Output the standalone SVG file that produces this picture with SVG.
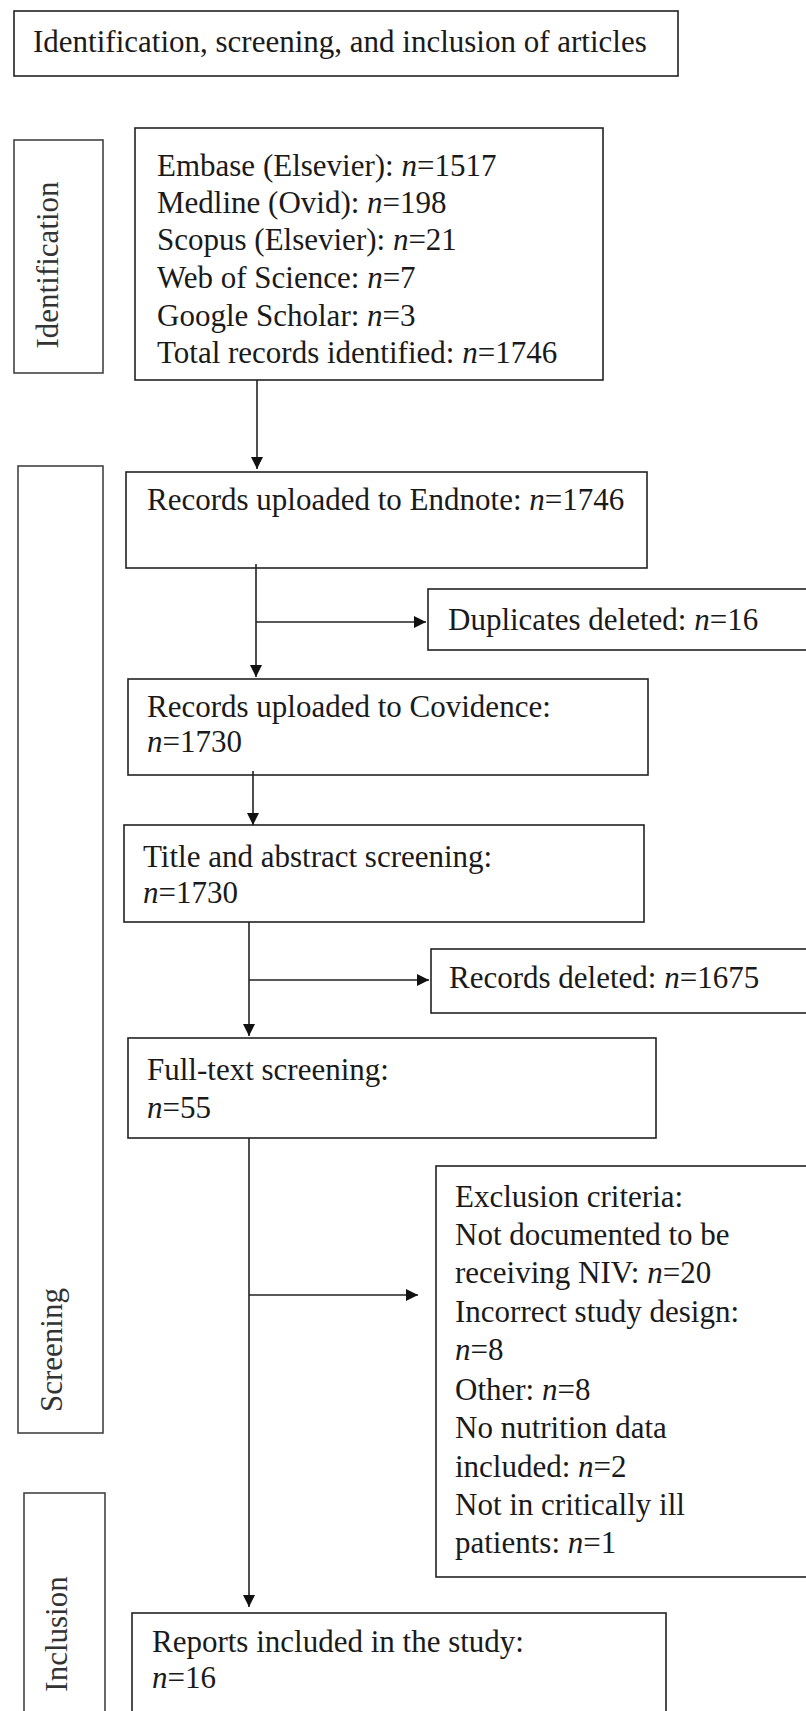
<svg xmlns="http://www.w3.org/2000/svg" width="806" height="1711" viewBox="0 0 806 1711">
<defs>
<style>
.box{fill:#fff;stroke:#222;stroke-width:1.6}
.lab{fill:#fff;stroke:#444;stroke-width:1.6}
.t{font-family:"Liberation Serif","Times New Roman",serif;font-size:31px;fill:#1a1a1a}
.lt{font-family:"Liberation Serif","Times New Roman",serif;font-size:31px;fill:#333;text-anchor:middle}
.i{font-style:italic}
.c{fill:none;stroke:#222;stroke-width:1.6}
</style>
<marker id="ah" viewBox="0 0 12 12" refX="12" refY="6" markerWidth="12" markerHeight="12" markerUnits="userSpaceOnUse" orient="auto">
<path d="M0,0 L12,6 L0,12 Z" fill="#111"/>
</marker>
</defs>
<rect width="806" height="1711" fill="#fff"/>

<g id="title">
<rect class="box" x="14" y="11" width="664" height="65"/>
<text class="t" x="33" y="52">Identification, screening, and inclusion of articles</text>
</g>

<g id="label-identification">
<rect class="lab" x="14" y="140" width="89" height="233"/>
<text class="lt" transform="translate(58,265) rotate(-90)">Identification</text>
</g>

<g id="label-screening">
<rect class="lab" x="18" y="466" width="85" height="967"/>
<text class="lt" transform="translate(62,1350) rotate(-90)">Screening</text>
</g>

<g id="label-inclusion">
<rect class="lab" x="24" y="1493" width="81" height="240"/>
<text class="lt" transform="translate(67,1634) rotate(-90)">Inclusion</text>
</g>

<g id="sources">
<rect class="box" x="135" y="128" width="468" height="252"/>
<text class="t" x="157" y="176">Embase (Elsevier): <tspan class="i">n</tspan>=1517</text>
<text class="t" x="157" y="213">Medline (Ovid): <tspan class="i">n</tspan>=198</text>
<text class="t" x="157" y="250">Scopus (Elsevier): <tspan class="i">n</tspan>=21</text>
<text class="t" x="157" y="288">Web of Science: <tspan class="i">n</tspan>=7</text>
<text class="t" x="157" y="326">Google Scholar: <tspan class="i">n</tspan>=3</text>
<text class="t" x="157" y="363">Total records identified: <tspan class="i">n</tspan>=1746</text>
</g>

<g id="endnote">
<rect class="box" x="126" y="472" width="521" height="96"/>
<text class="t" x="147" y="510">Records uploaded to Endnote: <tspan class="i">n</tspan>=1746</text>
</g>

<g id="duplicates">
<rect class="box" x="428" y="589" width="400" height="61"/>
<text class="t" x="448" y="630">Duplicates deleted: <tspan class="i">n</tspan>=16</text>
</g>

<g id="covidence">
<rect class="box" x="128" y="679" width="520" height="96"/>
<text class="t" x="147" y="717">Records uploaded to Covidence:</text>
<text class="t" x="147" y="752"><tspan class="i">n</tspan>=1730</text>
</g>

<g id="title-abstract">
<rect class="box" x="124" y="825" width="520" height="97"/>
<text class="t" x="143" y="867">Title and abstract screening:</text>
<text class="t" x="143" y="903"><tspan class="i">n</tspan>=1730</text>
</g>

<g id="records-deleted">
<rect class="box" x="431" y="949" width="400" height="64"/>
<text class="t" x="449" y="988">Records deleted: <tspan class="i">n</tspan>=1675</text>
</g>

<g id="full-text">
<rect class="box" x="128" y="1038" width="528" height="100"/>
<text class="t" x="147" y="1080">Full-text screening:</text>
<text class="t" x="147" y="1118"><tspan class="i">n</tspan>=55</text>
</g>

<g id="exclusion">
<rect class="box" x="436" y="1166" width="400" height="411"/>
<text class="t" x="455" y="1207">Exclusion criteria:</text>
<text class="t" x="455" y="1245">Not documented to be</text>
<text class="t" x="455" y="1283">receiving NIV: <tspan class="i">n</tspan>=20</text>
<text class="t" x="455" y="1322">Incorrect study design:</text>
<text class="t" x="455" y="1360"><tspan class="i">n</tspan>=8</text>
<text class="t" x="455" y="1400">Other: <tspan class="i">n</tspan>=8</text>
<text class="t" x="455" y="1438">No nutrition data</text>
<text class="t" x="455" y="1477">included: <tspan class="i">n</tspan>=2</text>
<text class="t" x="455" y="1515">Not in critically ill</text>
<text class="t" x="455" y="1553">patients: <tspan class="i">n</tspan>=1</text>
</g>

<g id="included">
<rect class="box" x="132" y="1613" width="534" height="120"/>
<text class="t" x="152" y="1652">Reports included in the study:</text>
<text class="t" x="152" y="1688"><tspan class="i">n</tspan>=16</text>
</g>

<g id="connectors">
<line class="c" x1="257" y1="380" x2="257" y2="469" marker-end="url(#ah)"/>
<line class="c" x1="256" y1="564" x2="256" y2="677" marker-end="url(#ah)"/>
<line class="c" x1="256" y1="622" x2="426" y2="622" marker-end="url(#ah)"/>
<line class="c" x1="253" y1="771" x2="253" y2="825" marker-end="url(#ah)"/>
<line class="c" x1="249" y1="922" x2="249" y2="1036" marker-end="url(#ah)"/>
<line class="c" x1="249" y1="980" x2="429" y2="980" marker-end="url(#ah)"/>
<line class="c" x1="249" y1="1138" x2="249" y2="1607" marker-end="url(#ah)"/>
<line class="c" x1="249" y1="1295" x2="418" y2="1295" marker-end="url(#ah)"/>
</g>
</svg>
